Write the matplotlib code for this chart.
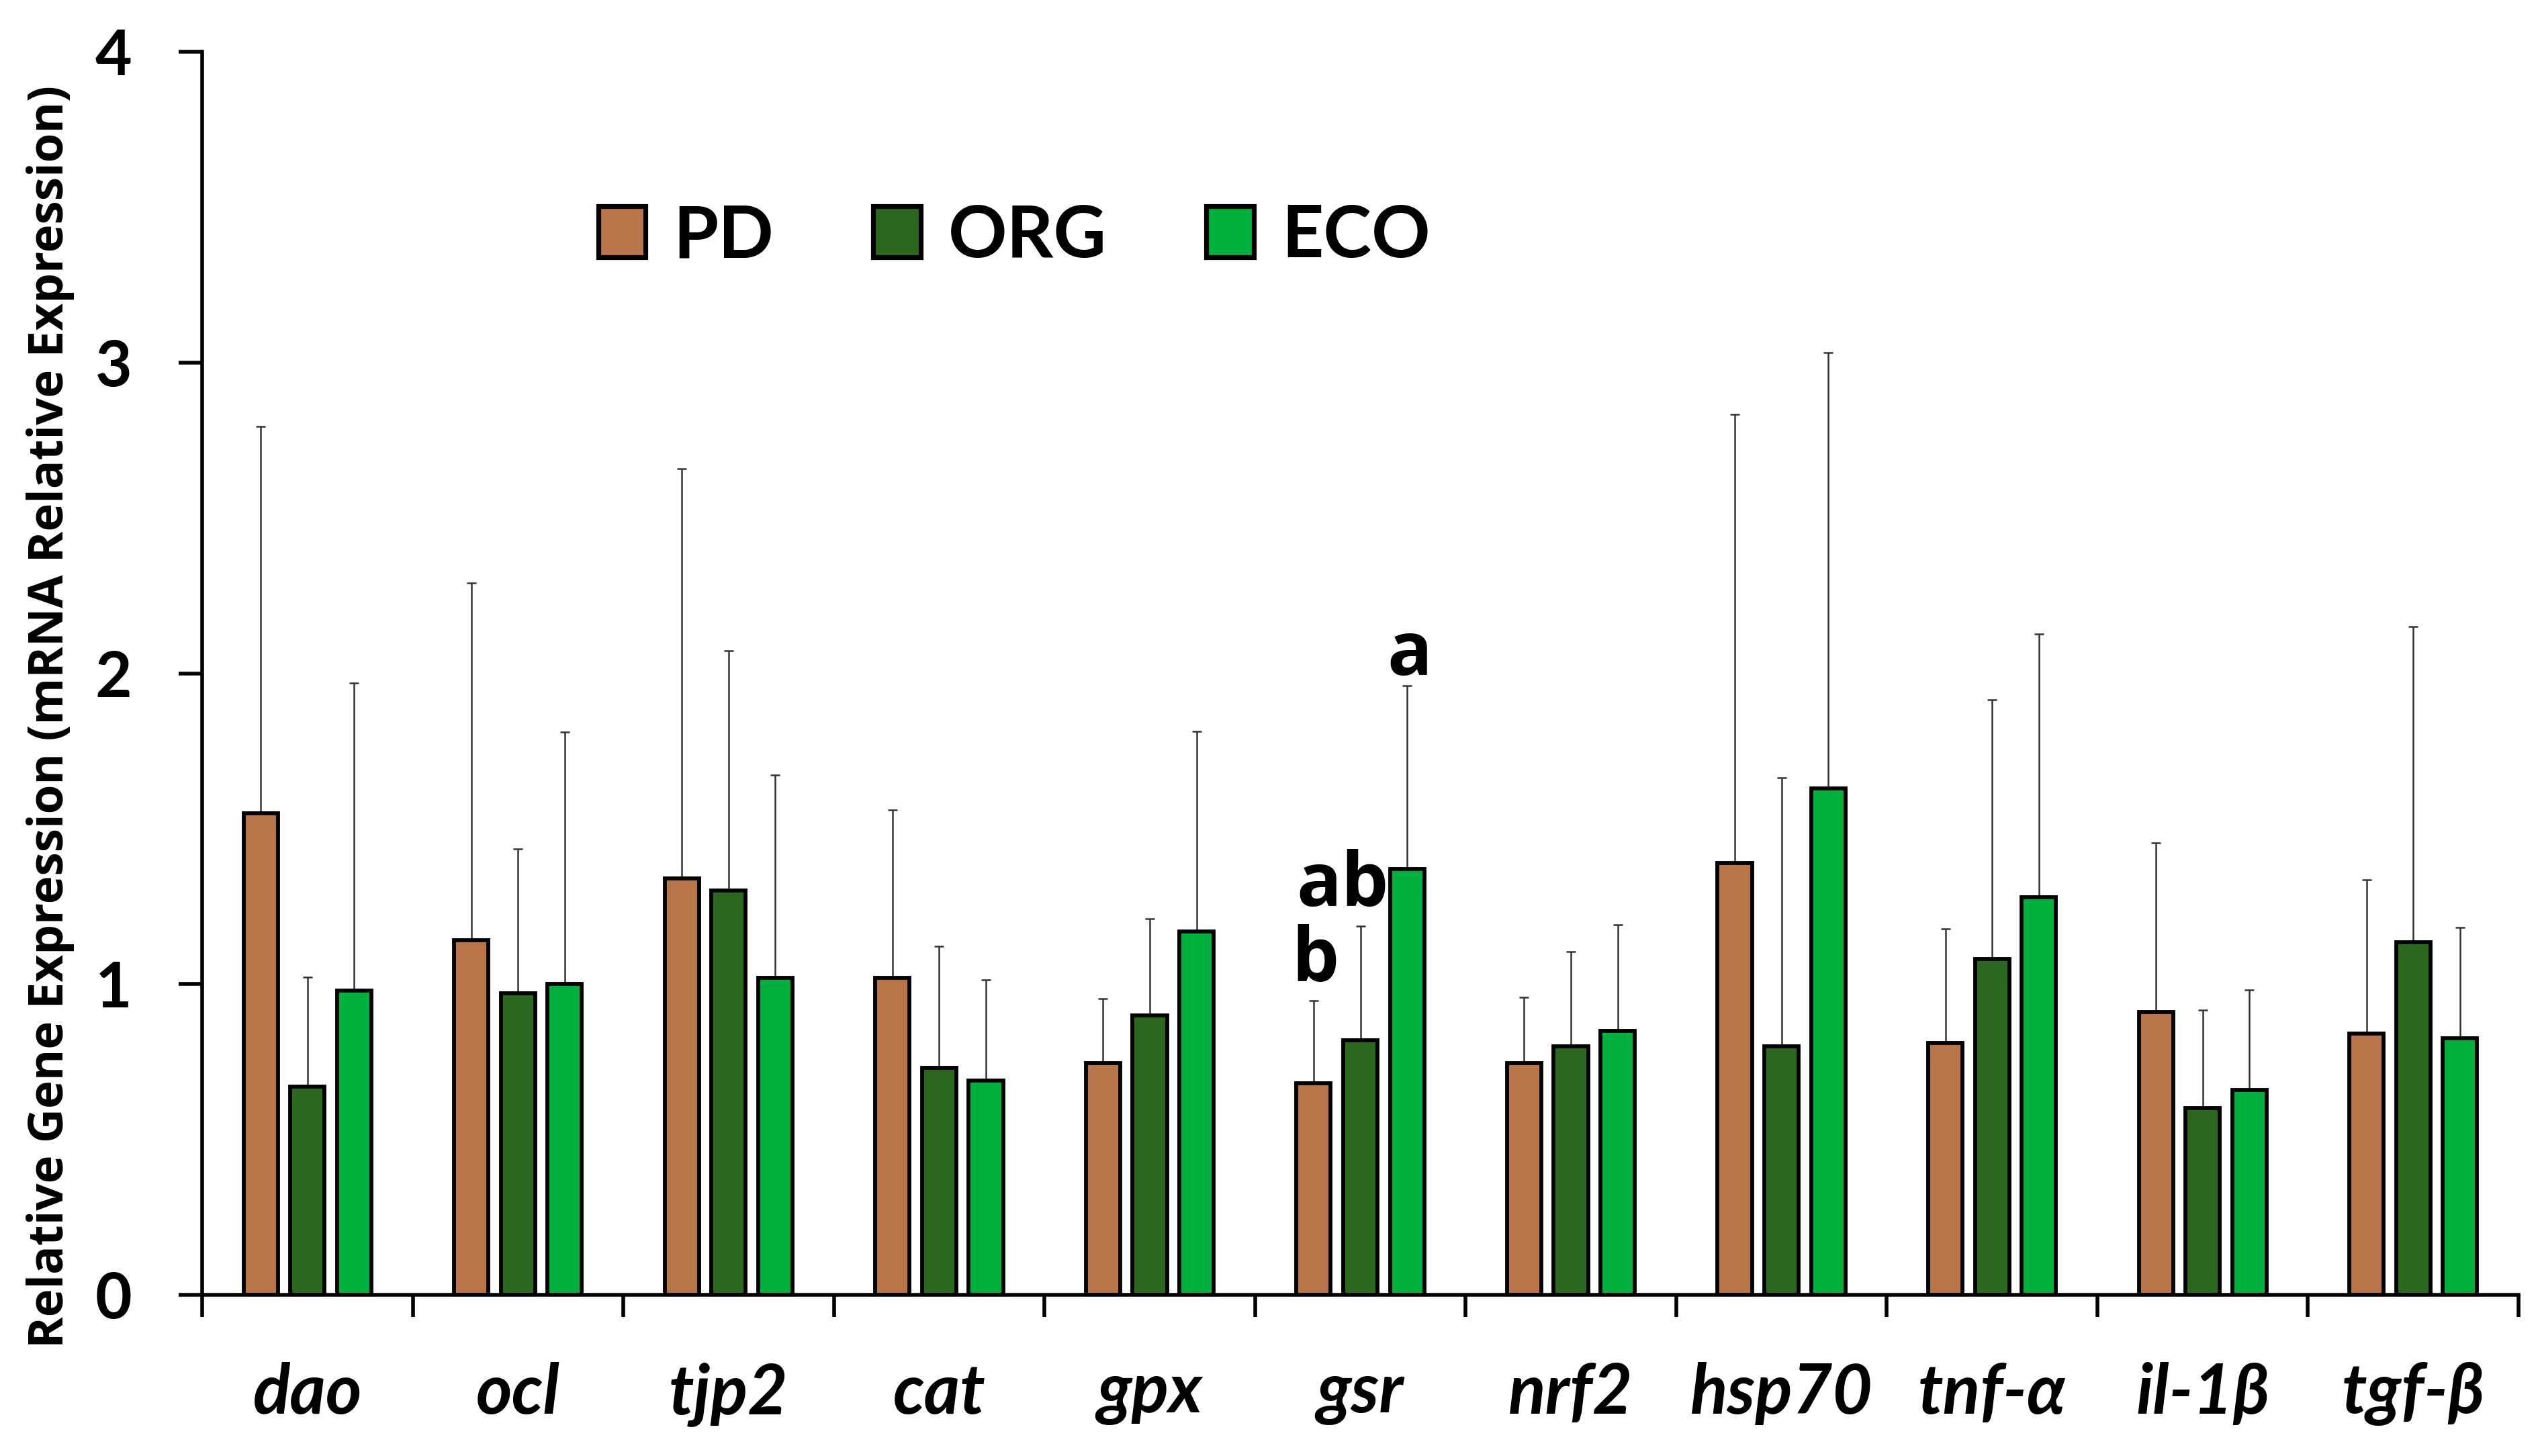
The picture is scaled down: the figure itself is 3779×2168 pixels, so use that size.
import numpy as np
import matplotlib
matplotlib.use("Agg")
import matplotlib.pyplot as plt
from matplotlib.patches import Patch

genes = ["dao", "ocl", "tjp2", "cat", "gpx", "gsr", "nrf2", "hsp70", "tnf-α", "il-1β", "tgf-β"]
groups = ["PD", "ORG", "ECO"]

# mean relative expression
pd_mean = [1.55, 1.14, 1.34, 1.02, 0.745, 0.68, 0.745, 1.39, 0.81, 0.91, 0.84]
org_mean = [0.67, 0.97, 1.30, 0.73, 0.90, 0.82, 0.80, 0.80, 1.08, 0.60, 1.135]
eco_mean = [0.98, 1.00, 1.02, 0.69, 1.17, 1.37, 0.85, 1.63, 1.28, 0.66, 0.825]

# upper error (SD)
pd_sd = [1.245, 1.15, 1.318, 0.541, 0.209, 0.266, 0.212, 1.443, 0.368, 0.545, 0.495]
org_sd = [0.353, 0.465, 0.772, 0.392, 0.311, 0.367, 0.305, 0.863, 0.834, 0.316, 1.015]
eco_sd = [0.989, 0.81, 0.653, 0.324, 0.644, 0.591, 0.341, 1.402, 0.847, 0.321, 0.357]

# significance letters for gsr: (text, x, y)
letters = [("b", 4.787, 1.009), ("ab", 4.917, 1.251), ("a", 5.234, 1.995)]

colors = ["#B8754A", "#2B671E", "#00B03F"]

W, H = 3779, 2168
fig = plt.figure(figsize=(W / 200, H / 200), dpi=200)
ax = fig.add_axes([301 / W, 1 - 1928 / H, (3750 - 301) / W, (1928 - 77) / H])

x = np.arange(len(genes))
offsets = [-0.222, 0.0, 0.222]
means = [pd_mean, org_mean, eco_mean]
sds = [pd_sd, org_sd, eco_sd]

for k in range(3):
    ax.bar(x + offsets[k], means[k], width=0.163, color=colors[k],
           edgecolor="black", linewidth=2.1, zorder=3)
    ax.errorbar(x + offsets[k], means[k],
                yerr=[np.zeros(len(genes)), sds[k]],
                fmt="none", ecolor="#333333", elinewidth=0.9,
                capsize=2.4, capthick=0.9, zorder=2)

ax.set_xlim(-0.5, len(genes) - 0.5)
ax.set_ylim(0, 4)

for s in ["top", "right"]:
    ax.spines[s].set_visible(False)
for s in ["left", "bottom"]:
    ax.spines[s].set_linewidth(2.0)

lato = ["Lato", "Open Sans", "DejaVu Sans"]

ax.set_yticks([0, 1, 2, 3, 4])
ax.set_yticklabels(["0", "1", "2", "3", "4"], family=lato,
                   fontweight="bold", fontsize=34)
ax.tick_params(axis="y", direction="out", length=12.6, width=2.0, pad=25)

ax.set_xticks(np.arange(-0.5, len(genes)))
ax.set_xticklabels([])
ax.tick_params(axis="x", which="major", direction="out", length=12, width=2.0)
ax.set_xticks(x, minor=True)
ax.set_xticklabels(genes, minor=True, family=lato,
                   fontweight="bold", fontstyle="italic", fontsize=37)
ax.tick_params(axis="x", which="minor", length=0, pad=36)

fig.text(0.0199, 0.508, "Relative Gene Expression (mRNA Relative Expression)",
         rotation=90, ha="center", va="center", family=["Open Sans", "DejaVu Sans"],
         fontweight="bold", fontsize=25.5)

for txt, tx, ty in letters:
    ax.text(tx, ty, txt, ha="center", va="baseline", family=["Open Sans", "DejaVu Sans"],
            fontweight="bold", fontsize=40, zorder=5)

handles = [Patch(facecolor=c, edgecolor="black", linewidth=2.6) for c in colors]
fig.legend(handles, groups, loc="center", bbox_to_anchor=(0.3996, 0.8376),
           bbox_transform=fig.transFigure, ncol=3, frameon=False,
           prop={"family": lato, "weight": "bold", "size": 39},
           handlelength=0.65, handleheight=0.71, handletextpad=0.38,
           columnspacing=1.37, borderpad=0, borderaxespad=0)

fig.savefig("out.png", dpi=200)
